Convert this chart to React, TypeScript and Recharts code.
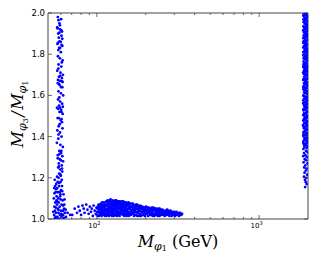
import React from 'react';
import { ScatterChart, Scatter, XAxis, YAxis, ReferenceArea } from 'recharts';

// ---- axis ticks ----
const X_MAJOR = [100, 1000];
const X_MINOR = [60, 70, 80, 90, 200, 300, 400, 500, 600, 700, 800, 900];
const X_LABELS: Record<number, string> = { 100: '2', 1000: '3' };
const Y_TICKS = [1.0, 1.2, 1.4, 1.6, 1.8, 2.0];
const X_DOMAIN = [50, 2000];
const Y_DOMAIN = [1.0, 2.0];

// ---- data: [M_phi1 (GeV), M_phi3/M_phi1] ----
const LEFT_UPPER: number[][] = [
  [57.5,1.98],[60.2,1.97],[58.8,1.95],[56.9,1.93],[59.5,1.92],[61.0,1.91],[57.8,1.90],[60.5,1.89],[58.3,1.88],[59.9,1.86],
  [57.2,1.85],[61.3,1.84],[58.6,1.83],[60.0,1.81],[57.6,1.79],[59.2,1.78],[61.5,1.77],[58.1,1.75],[60.4,1.74],[57.0,1.72],
  [59.7,1.71],[61.8,1.70],[58.4,1.69],[60.7,1.67],[57.4,1.66],[59.0,1.65],[61.2,1.64],[58.0,1.62],[60.1,1.61],[62.0,1.60],
  [57.7,1.58],[59.4,1.57],[61.1,1.56],[58.5,1.55],[56.8,1.54],[60.3,1.53],[58.9,1.52],[61.6,1.51],[57.3,1.49],[59.8,1.48],
  [60.9,1.47],[58.2,1.45],[61.4,1.44],[57.1,1.43],[59.3,1.42],[60.6,1.40],[57.9,1.39],[56.7,1.37],[59.6,1.36],[61.7,1.35],
  [58.7,1.33],[60.2,1.32],[57.5,1.31],[59.1,1.29],[61.9,1.28],[58.3,1.27],[60.8,1.26],[57.8,1.25],[59.5,1.24],[61.2,1.23],
  [58.6,1.22],[60.0,1.21],
];
const LEFT_CLUMPS: number[][] = [
  [58.0,1.965],[59.2,1.94],[57.3,1.925],[60.4,1.915],[58.8,1.905],[61.2,1.875],[58.9,1.862],[57.6,1.855],[60.6,1.845],[59.3,1.83],
  [57.9,1.82],[60.8,1.76],[57.9,1.73],[59.4,1.695],[60.9,1.685],[57.6,1.675],[59.2,1.67],[61.5,1.665],[58.4,1.655],[60.3,1.64],
  [58.7,1.59],[61.7,1.545],[59.3,1.54],[57.7,1.535],[60.5,1.52],[58.4,1.49],[60.7,1.485],[59.0,1.46],[58.0,1.41],[60.4,1.33],
  [58.9,1.315],[61.3,1.305],[57.4,1.295],[60.1,1.285],[58.4,1.255],[61.0,1.245],[59.6,1.215],[56.9,1.205],
];
const LEFT_LOWER: number[][] = [
  [55.0,1.19],[57.3,1.18],[59.8,1.18],[56.2,1.17],[58.5,1.16],[61.0,1.16],[54.6,1.15],[57.0,1.15],[60.2,1.14],[55.8,1.13],
  [58.9,1.13],[62.3,1.12],[56.5,1.11],[59.4,1.11],[54.3,1.10],[57.8,1.10],[61.5,1.09],[55.5,1.08],[58.2,1.08],[60.6,1.07],
  [56.8,1.07],[54.8,1.06],[59.0,1.06],[62.8,1.05],[57.5,1.05],[55.2,1.04],[60.0,1.04],[58.0,1.03],[63.5,1.03],[56.0,1.03],
  [61.2,1.02],[54.5,1.02],[59.2,1.02],[57.2,1.01],[64.5,1.01],[55.7,1.01],[60.5,1.01],[62.0,1.02],[58.7,1.00],[56.3,1.00],
  [66.0,1.03],[68.5,1.02],[61.8,1.04],[63.0,1.07],[56.4,1.09],[59.6,1.12],[57.6,1.13],[55.3,1.16],[60.8,1.19],[58.1,1.20],
  [54.9,1.125],[63.2,1.095],[55.9,1.055],[61.9,1.065],[57.9,1.045],[64.2,1.045],[53.9,1.035],[60.3,1.025],[62.5,1.005],[55.1,1.005],
  [59.8,1.095],[57.0,1.085],[61.1,1.135],[56.1,1.145],[58.6,1.175],
];
const BOTTOM_SPARSE: number[][] = [
  [70.5,1.02],[73,1.05],[75.5,1.03],[77,1.06],[78.5,1.04],[80,1.02],[81.5,1.065],[83,1.05],[84,1.03],[86,1.07],
  [87.5,1.045],[89,1.025],[90.5,1.06],[92,1.035],[93,1.05],[94.5,1.015],[95.5,1.065],[97,1.04],[98.5,1.025],[99.5,1.055],
];
const BOTTOM_DENSE: number[][] = [
  [100,1.02],[101,1.05],[102,1.035],[102.5,1.07],[103,1.015],[104,1.045],[104.5,1.06],[105,1.025],[106,1.075],[106.5,1.04],
  [107,1.015],[108,1.055],[108.5,1.03],[109,1.065],[110,1.02],[110.5,1.08],[111,1.045],[111.5,1.035],[112,1.06],[112.5,1.015],
  [113,1.07],[113.5,1.05],[114,1.025],[114.5,1.085],[115,1.04],[101.5,1.06],[103.5,1.03],[105.5,1.055],[107.5,1.065],[109.5,1.04],
  [115.5,1.02],[116,1.065],[116.5,1.09],[117,1.045],[117.5,1.03],[118,1.075],[118.5,1.015],[119,1.055],[119.5,1.085],[120,1.035],
  [120.5,1.06],[121,1.02],[121.5,1.095],[122,1.045],[122.5,1.07],[123,1.03],[123.5,1.08],[124,1.015],[124.5,1.055],[125,1.09],
  [125.5,1.04],[126,1.065],[126.5,1.025],[127,1.075],[127.5,1.05],[128,1.035],[128.5,1.085],[129,1.06],[129.5,1.02],[130,1.045],
  [130.5,1.07],[131,1.03],[131.5,1.09],[132,1.055],[133,1.015],[133.5,1.075],[134,1.04],[134.5,1.065],
  [135,1.025],[135.5,1.085],[136,1.05],[137,1.07],[137.5,1.035],[138,1.015],[139,1.06],[139.5,1.08],[140,1.045],[141,1.025],
  [141.5,1.065],[142,1.085],[143,1.04],[144,1.055],[144.5,1.02],[145,1.075],[146,1.035],[147,1.06],[147.5,1.08],[148,1.015],
  [149,1.05],[150,1.07],[150.5,1.03],[151.5,1.055],[152,1.075],[153,1.02],[154,1.045],[155,1.065],[155.5,1.035],[156.5,1.08],
  [157,1.015],[158,1.05],[159,1.07],[159.5,1.03],
  [160.5,1.055],[161.5,1.02],[162.5,1.075],[163.5,1.04],[165,1.06],[166,1.025],[167,1.07],[168,1.045],[169.5,1.015],[170.5,1.055],
  [172,1.035],[173,1.065],[174.5,1.02],[175.5,1.05],[177,1.07],[178,1.03],[179.5,1.045],[181,1.06],[182,1.015],[183.5,1.04],
  [185,1.065],[186,1.025],[187.5,1.05],[189,1.035],[190.5,1.06],[192,1.02],[193.5,1.045],[195,1.03],[196.5,1.055],[198,1.015],
  [199.5,1.04],
  [201,1.06],[203,1.025],[205,1.045],[207,1.015],[209,1.055],[211,1.035],[213,1.02],[215,1.05],[217,1.03],[219,1.045],
  [221,1.015],[223,1.055],[225,1.025],[227,1.04],[229,1.02],[231,1.05],[233,1.03],[236,1.045],[238,1.015],[240,1.035],
  [242,1.025],[244,1.05],[246,1.02],[248,1.04],[250,1.03],
  [253,1.045],[256,1.02],[259,1.035],[262,1.015],[265,1.04],[268,1.025],[271,1.045],[274,1.02],[277,1.035],[280,1.015],
  [284,1.04],[287,1.025],[291,1.03],[295,1.02],[299,1.035],[303,1.015],[307,1.03],[311,1.02],[316,1.025],[321,1.015],
  [326,1.03],[331,1.02],[335,1.025],
];
const BOTTOM_FILL: number[][] = [
  [100.5,1.035],[101.5,1.015],[102,1.055],[103,1.065],[103.5,1.045],[104.5,1.02],[105,1.07],[106,1.035],[106.5,1.05],[107.5,1.025],
  [108,1.08],[109,1.045],[110,1.06],[110.5,1.03],[111,1.07],[112,1.025],[112.5,1.05],[113,1.04],[114,1.065],[114.5,1.015],
  [115,1.08],[116,1.035],[117,1.07],[117.5,1.055],[118,1.025],[119,1.04],[119.5,1.07],[120,1.09],[121,1.05],[121.5,1.035],
  [122,1.08],[123,1.06],[123.5,1.02],[124,1.045],[125,1.07],[125.5,1.03],[126,1.085],[127,1.04],[127.5,1.015],[128,1.065],
  [129,1.075],[129.5,1.045],[130,1.09],[131,1.055],[131.5,1.02],[132,1.08],[132.5,1.04],[133,1.065],[134,1.03],[134.5,1.085],
  [135,1.055],[136,1.035],[136.5,1.075],[137,1.02],[138,1.05],[138.5,1.085],[139,1.03],[140,1.07],[141,1.05],[142,1.035],
  [142.5,1.06],[143,1.075],[144,1.025],[145,1.045],[145.5,1.085],[146,1.065],[147,1.02],[148,1.04],[148.5,1.07],[149,1.025],
  [150,1.055],[151,1.08],[152,1.04],[152.5,1.015],[153,1.065],[154,1.03],[155,1.075],[156,1.05],[157,1.025],[157.5,1.065],
  [158,1.035],[159,1.055],[160,1.075],[160,1.02],
  [162,1.045],[163,1.06],[164,1.025],[165,1.035],[166.5,1.075],[167.5,1.05],[168.5,1.03],[170,1.065],[171,1.04],[172,1.02],
  [173.5,1.05],[174,1.07],[175,1.035],[176,1.06],[177.5,1.015],[179,1.065],[180,1.035],[181.5,1.05],[183,1.025],[184,1.06],
  [185.5,1.04],[187,1.015],[188,1.06],[189.5,1.05],[191,1.035],[192.5,1.055],[194,1.02],[195.5,1.045],[197,1.035],[198.5,1.055],
  [200,1.025],[202,1.045],[204,1.035],[206,1.055],[208,1.03],[210,1.045],[212,1.025],[214,1.04],[216,1.02],[218,1.055],
  [220,1.035],[222,1.025],[224,1.045],[226,1.015],[228,1.05],[230,1.035],[232,1.02],[234,1.04],[237,1.025],[239,1.05],
  [241,1.04],[243,1.015],[245,1.035],[247,1.045],[249,1.02],
  [251,1.035],[254,1.03],[257,1.04],[260,1.025],[263,1.035],[266,1.02],[269,1.035],[272,1.03],[275,1.04],[278,1.025],
  [282,1.03],[286,1.035],[289,1.015],[293,1.035],[297,1.025],[301,1.03],[305,1.02],[309,1.035],[313,1.025],[318,1.03],
  [323,1.02],[328,1.025],
];
const RIGHT_DENSE: number[][] = [
  [1885,1.995],[1950,1.99],[1975,1.985],[1900,1.98],[1960,1.975],[1880,1.97],[1930,1.965],[1985,1.96],[1895,1.955],[1945,1.95],
  [1970,1.94],[1875,1.935],[1920,1.93],[1980,1.925],[1905,1.92],[1955,1.91],[1890,1.905],[1935,1.9],[1975,1.895],[1880,1.89],
  [1960,1.885],[1915,1.88],[1985,1.87],[1895,1.865],[1945,1.86],[1870,1.855],[1970,1.85],[1925,1.845],[1890,1.84],[1955,1.835],
  [1980,1.825],[1905,1.82],[1940,1.815],[1875,1.81],[1965,1.805],[1915,1.8],[1985,1.795],[1895,1.79],[1950,1.785],[1880,1.78],
  [1930,1.775],[1970,1.77],[1900,1.76],[1955,1.755],[1875,1.75],[1985,1.745],[1920,1.74],[1890,1.735],[1945,1.73],[1975,1.72],
  [1905,1.715],[1960,1.71],[1880,1.705],[1935,1.7],[1985,1.695],[1895,1.69],[1950,1.68],[1870,1.675],[1920,1.67],[1970,1.665],
  [1890,1.66],[1945,1.655],[1980,1.65],[1905,1.64],[1960,1.635],[1875,1.63],[1930,1.625],[1975,1.62],[1895,1.615],[1950,1.61],
  [1880,1.6],[1920,1.595],[1985,1.59],[1900,1.585],[1960,1.58],[1870,1.575],[1940,1.57],[1975,1.56],[1890,1.555],[1950,1.55],
  [1915,1.545],[1985,1.54],[1880,1.535],[1935,1.53],[1965,1.52],[1895,1.515],[1945,1.51],[1870,1.505],[1980,1.5],[1910,1.495],
  [1955,1.49],[1885,1.485],[1930,1.48],[1970,1.47],[1900,1.465],[1950,1.46],[1865,1.455],[1985,1.45],[1920,1.445],[1890,1.44],
  [1960,1.435],[1940,1.43],[1875,1.42],[1975,1.415],[1905,1.41],[1955,1.405],[1880,1.4],[1930,1.395],[1985,1.39],[1895,1.385],
  [1945,1.38],[1870,1.375],[1965,1.37],[1915,1.365],[1890,1.36],[1980,1.355],
];
const RIGHT_FILL: number[][] = [
  [1955,1.998],[1910,1.992],[1870,1.987],[1990,1.978],[1925,1.972],[1965,1.962],[1880,1.958],[1910,1.947],[1988,1.944],[1950,1.937],
  [1895,1.928],[1940,1.922],[1868,1.915],[1985,1.912],[1925,1.907],[1965,1.898],[1905,1.893],[1945,1.887],[1872,1.878],[1990,1.882],
  [1930,1.872],[1960,1.866],[1880,1.862],[1915,1.852],[1985,1.848],[1940,1.842],[1870,1.832],[1925,1.828],[1968,1.818],[1890,1.812],
  [1990,1.808],[1950,1.802],[1870,1.797],[1930,1.792],[1965,1.783],[1905,1.778],[1988,1.768],[1880,1.765],[1940,1.758],[1910,1.748],
  [1968,1.742],[1870,1.738],[1930,1.728],[1985,1.732],[1895,1.722],[1950,1.718],[1870,1.712],[1920,1.702],[1968,1.698],[1905,1.688],
  [1985,1.682],[1880,1.678],[1935,1.672],[1958,1.662],[1900,1.652],[1988,1.645],[1870,1.642],[1930,1.638],[1890,1.628],[1965,1.622],
  [1915,1.612],[1985,1.605],[1875,1.598],[1945,1.592],[1890,1.582],[1985,1.575],[1925,1.567],[1870,1.562],[1960,1.558],[1900,1.548],
  [1968,1.542],[1930,1.538],[1875,1.528],[1988,1.522],[1920,1.512],[1890,1.502],[1965,1.498],[1935,1.488],[1870,1.478],[1985,1.475],
  [1910,1.468],[1960,1.455],[1880,1.448],[1930,1.438],[1985,1.432],[1900,1.425],[1950,1.418],[1870,1.408],[1965,1.398],[1915,1.388],
  [1988,1.378],[1880,1.368],[1940,1.358],
];
const RIGHT_SPARSE: number[][] = [
  [1900,1.35],[1960,1.345],[1875,1.34],[1945,1.33],[1985,1.325],[1890,1.32],[1930,1.31],[1870,1.305],[1970,1.3],[1910,1.29],
  [1950,1.285],[1880,1.275],[1985,1.27],[1925,1.26],[1895,1.25],[1960,1.245],[1940,1.235],[1905,1.225],[1975,1.215],[1890,1.205],
  [1950,1.2],[1915,1.19],[1935,1.18],[1960,1.17],[1920,1.155],
];

const SERIES = [
  LEFT_UPPER, LEFT_CLUMPS, LEFT_LOWER, BOTTOM_SPARSE, BOTTOM_DENSE, BOTTOM_FILL, RIGHT_DENSE, RIGHT_FILL, RIGHT_SPARSE,
];

// ---- layout ----
const W = 317;
const H = 264;
const MARGIN = { top: 13, right: 9, bottom: 15, left: 8 };
const Y_AXIS_W = 40;
const X_AXIS_H = 30;
const PLOT_TOP = MARGIN.top;
const PLOT_RIGHT = W - MARGIN.right;
const TICK_COLOR = '#444';
const DOT_COLOR = '#0000ff';
const SANS = '"DejaVu Sans", sans-serif';
const SERIF = '"DejaVu Serif", serif';

const Dot = (p: any) => <circle cx={p.cx} cy={p.cy} r={1.4} fill={DOT_COLOR} />;

const XTick = (p: any) => {
  const { x, y, payload } = p;
  const v = payload.value;
  const major = X_MAJOR.includes(v);
  const len = major ? 4 : 2;
  return (
    <g>
      <line x1={x} x2={x} y1={y} y2={y - len} stroke={TICK_COLOR} strokeWidth={0.8} />
      <line x1={x} x2={x} y1={PLOT_TOP} y2={PLOT_TOP + len} stroke={TICK_COLOR} strokeWidth={0.8} />
      {major && (
        <text x={x - 2.5} y={y + 9} textAnchor="middle" fontFamily={SANS} fontSize={7} fill="#000">
          10<tspan fontSize={5} dy={-3}>{X_LABELS[v]}</tspan>
        </text>
      )}
    </g>
  );
};

const YTick = (p: any) => {
  const { x, y, payload } = p;
  return (
    <g>
      <line x1={x} x2={x + 4} y1={y} y2={y} stroke={TICK_COLOR} strokeWidth={0.8} />
      <line x1={PLOT_RIGHT - 4} x2={PLOT_RIGHT} y1={y} y2={y} stroke={TICK_COLOR} strokeWidth={0.8} />
      <text x={x - 3} y={y + 3} textAnchor="end" fontFamily={SANS} fontSize={8.5} fill="#000">
        {Number(payload.value).toFixed(1)}
      </text>
    </g>
  );
};

const XTitle = (p: any) => {
  const vb = p.viewBox || { x: 48, y: 219, width: 260, height: 30 };
  const cx = vb.x + vb.width / 2;
  return (
    <text x={cx} y={vb.y + 27.5} textAnchor="middle" fontFamily={SERIF} fontSize={16} fill="#000">
      <tspan fontStyle="italic">M</tspan>
      <tspan fontSize={11} dy={3} fontStyle="italic">φ</tspan>
      <tspan fontSize={8} dy={1.5}>1</tspan>
      <tspan dy={-4.5}>{' (GeV)'}</tspan>
    </text>
  );
};

const YTitle = (p: any) => {
  const vb = p.viewBox || { x: 8, y: 13, width: 40, height: 206 };
  const cy = vb.y + vb.height / 2 - 2;
  const bx = 23;
  return (
    <text
      x={bx}
      y={cy}
      transform={`rotate(-90 ${bx} ${cy})`}
      textAnchor="middle"
      fontFamily={SERIF}
      fontSize={16}
      fill="#000"
    >
      <tspan fontStyle="italic">M</tspan>
      <tspan fontSize={11} dy={3} fontStyle="italic">φ</tspan>
      <tspan fontSize={8} dy={1.5}>3</tspan>
      <tspan dy={-4.5} dx={1.5} fontStyle="italic">/</tspan>
      <tspan dx={1.5} fontStyle="italic">M</tspan>
      <tspan fontSize={11} dy={3} fontStyle="italic">φ</tspan>
      <tspan fontSize={8} dy={1.5}>1</tspan>
    </text>
  );
};

export default function App() {
  return (
    <div style={{ position: 'absolute', left: 0, top: 0, width: W, height: H, background: '#fff' }}>
      <ScatterChart width={W} height={H} margin={MARGIN}>
        <XAxis
          dataKey="x"
          type="number"
          scale="log"
          domain={X_DOMAIN}
          allowDataOverflow
          ticks={[...X_MINOR, ...X_MAJOR].sort((a, b) => a - b)}
          interval={0}
          tickSize={0}
          tickMargin={0}
          tickLine={false}
          axisLine={false}
          height={X_AXIS_H}
          tick={<XTick />}
          label={{ content: (p: any) => <XTitle viewBox={p.viewBox} /> }}
        />
        <YAxis
          dataKey="y"
          type="number"
          domain={Y_DOMAIN}
          allowDataOverflow
          ticks={Y_TICKS}
          interval={0}
          tickSize={0}
          tickMargin={0}
          tickLine={false}
          axisLine={false}
          width={Y_AXIS_W}
          tick={<YTick />}
          label={{ content: (p: any) => <YTitle viewBox={p.viewBox} /> }}
        />
        {SERIES.map((s, i) => (
          <Scatter
            key={i}
            data={s.map(([x, y]) => ({ x, y }))}
            shape={Dot}
            isAnimationActive={false}
          />
        ))}
        <ReferenceArea
          x1={X_DOMAIN[0]}
          x2={X_DOMAIN[1]}
          y1={Y_DOMAIN[0]}
          y2={Y_DOMAIN[1]}
          fill="none"
          fillOpacity={0}
          stroke={TICK_COLOR}
          strokeWidth={1}
          ifOverflow="visible"
        />
      </ScatterChart>
    </div>
  );
}
